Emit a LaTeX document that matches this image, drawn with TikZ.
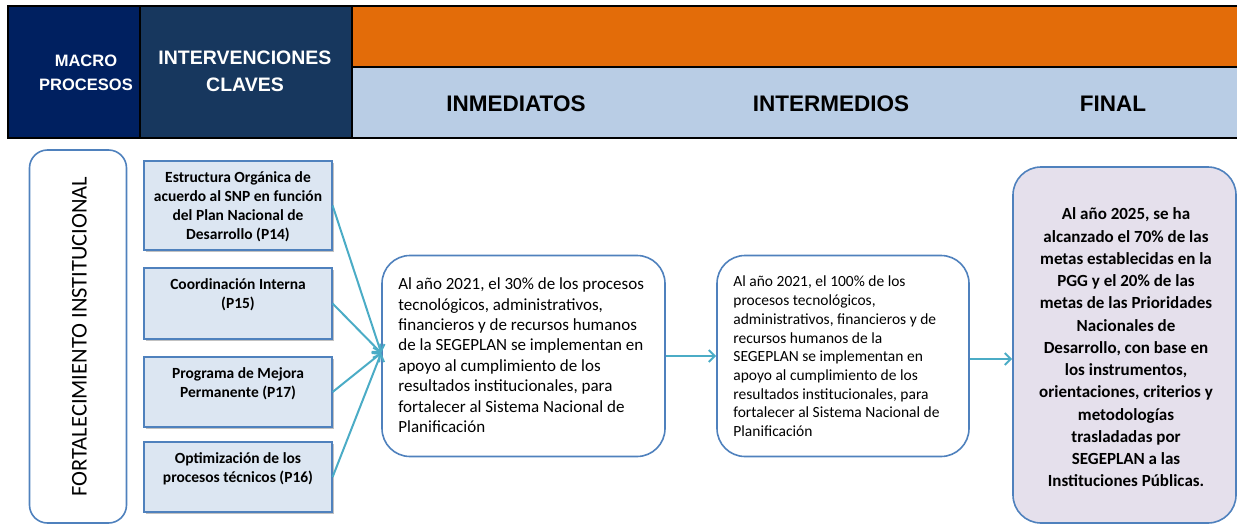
\documentclass[tikz,border=0pt]{standalone}
\usepackage{fontspec}
\setmainfont{Carlito}
\newfontfamily\arial{Liberation Sans}
\usetikzlibrary{positioning,shadows,arrows.meta}
\definecolor{azulmacro}{HTML}{002060}
\definecolor{azulinter}{HTML}{17375E}
\definecolor{naranja}{HTML}{E36C09}
\definecolor{celeste}{HTML}{B9CDE5}
\definecolor{bordeazul}{HTML}{4F81BD}
\definecolor{cajaazul}{HTML}{DCE6F2}
\definecolor{lila}{HTML}{E5E0EC}
\definecolor{flechaazul}{HTML}{4BACC6}
\tikzset{
  caja/.style={draw=bordeazul,line width=1.2pt,fill=cajaazul,minimum width=188pt,
    drop shadow={shadow xshift=1.5pt,shadow yshift=-1.5pt,opacity=.35,fill=black!70}},
  redondo/.style={draw=bordeazul,line width=1.6pt,rounded corners=28pt},
  flecha/.style={draw=flechaazul,line width=2pt,-{Straight Barb[length=6pt,width=12pt]}},
  titulo/.style={font=\arial\bfseries\fontsize{22.5}{26}\selectfont,anchor=base},
  textocaja/.style={anchor=north,inner sep=0pt,font=\bfseries\fontsize{15.5}{19}\selectfont}
}
\begin{document}
\begin{tikzpicture}[x=1pt,y=-1pt]
        \useasboundingbox (0,0) rectangle (1237,525);
        
        % encabezado
        \fill[azulmacro] (8,6) rectangle (140,138);
        \fill[azulinter] (140,6) rectangle (352,138);
        \fill[naranja] (352,6) rectangle (1237,67);
        \fill[celeste] (352,67) rectangle (1237,138);
        \draw[black,line width=1.5pt] (1237,6) -- (8,6) -- (8,138) -- (1237,138);
        \draw[black,line width=1.2pt] (140,6) -- (140,138);%
        \draw[black,line width=1.2pt] (352,6) -- (352,138);%
        \draw[black,line width=1.2pt] (352,67) -- (1237,67);%
        
        \node[text=white,font=\arial\bfseries\fontsize{16.5}{24}\selectfont] (macro) at (86,74){\begin{tabular}{c}MACRO\\PROCESOS\end{tabular}};
        \node[text=white,font=\arial\bfseries\fontsize{19.5}{27}\selectfont] (claves) at (245,73){\begin{tabular}{c}INTERVENCIONES\\CLAVES\end{tabular}};
        \node[titulo] (inmediatos) at (516,111){INMEDIATOS};
        \node[titulo] (intermedios) at (831,111){INTERMEDIOS};
        \node[titulo] (final) at (1113,111){FINAL};
        
        % macro proceso
        \node[redondo,rounded corners=18pt,minimum width=97pt,minimum height=373pt] (fort) at (78,336.5){};
        \node[rotate=90,font=\fontsize{22.5}{26}\selectfont] (fortxt) at ([xshift=1.5pt]fort.center){FORTALECIMIENTO INSTITUCIONAL};
        
        % intervenciones
        \node[caja,minimum height=89pt] (p14) at (238,205.5){};
        \node[caja,minimum height=71pt] (p15) at (238,303.5){};
        \node[caja,minimum height=70pt] (p17) at (238,392){};
        \node[caja,minimum height=70pt] (p16) at (238,477){};
        \node[textocaja] (t14) at ([yshift=-9pt]p14.north){\begin{tabular}{c}Estructura Orgánica de\\acuerdo al SNP en función\\del Plan Nacional de\\Desarrollo (P14)\end{tabular}};
        \node[textocaja] (t15) at ([yshift=-9pt]p15.north){\begin{tabular}{c}Coordinación Interna\\(P15)\end{tabular}};
        \node[textocaja] (t17) at ([yshift=-9pt]p17.north){\begin{tabular}{c}Programa de Mejora\\Permanente (P17)\end{tabular}};
        \node[textocaja] (t16) at ([yshift=-9pt]p16.north){\begin{tabular}{c}Optimización de los\\procesos técnicos (P16)\end{tabular}};
        
        % resultados
        \node[redondo,fill=white,minimum width=283pt,minimum height=201pt] (inm) at (523.5,356){};
        \node[anchor=west,inner sep=0pt,font=\fontsize{17}{20.4}\selectfont] (inmtxt) at ([xshift=17pt,yshift=-1pt]inm.west){\begin{tabular}{@{}l@{}}Al año 2021, el 30\% de los procesos\\tecnológicos, administrativos,\\financieros y de recursos humanos\\de la SEGEPLAN se implementan en\\apoyo al cumplimiento de los\\resultados institucionales, para\\fortalecer al Sistema Nacional de\\Planificación\end{tabular}};
        
        \node[redondo,fill=white,minimum width=252pt,minimum height=201pt] (int) at (843,356){};
        \node[anchor=west,inner sep=0pt,font=\fontsize{15.5}{18.7}\selectfont] (inttxt) at ([xshift=17pt,yshift=-2pt]int.west){\begin{tabular}{@{}l@{}}Al año 2021, el 100\% de los\\procesos tecnológicos,\\administrativos, financieros y de\\recursos humanos de la\\SEGEPLAN se implementan en\\apoyo al cumplimiento de los\\resultados institucionales, para\\fortalecer al Sistema Nacional de\\Planificación\end{tabular}};
        
        \node[redondo,fill=lila,minimum width=223pt,minimum height=356pt] (fin) at (1124.5,345){};
        \node[inner sep=0pt,font=\bfseries\fontsize{17}{22.25}\selectfont] (fintxt) at ([xshift=1.5pt,yshift=-4pt]fin.center){\begin{tabular}{c}Al año 2025, se ha\\alcanzado el 70\% de las\\metas establecidas en la\\PGG y el 20\% de las\\metas de las Prioridades\\Nacionales de\\Desarrollo, con base en\\los instrumentos,\\orientaciones, criterios y\\metodologías\\trasladadas por\\SEGEPLAN a las\\Instituciones Públicas.\end{tabular}};
        
        % flechas
        \foreach \p in {p14,p15,p17,p16}
            \draw[flecha] (\p.east) -- ([yshift=3pt]inm.west);
        \draw[flecha] (inm.east) -- (int.west);
        \draw[flecha] ([yshift=-3pt]int.east) -- ([yshift=-3pt]int.east -| fin.west);
        
\end{tikzpicture}
\end{document}
